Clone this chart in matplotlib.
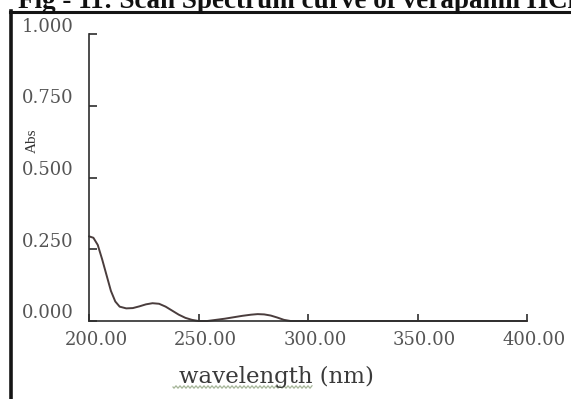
import numpy as np
import matplotlib
matplotlib.use("Agg")
import matplotlib.pyplot as plt
from matplotlib.lines import Line2D
from matplotlib.transforms import ScaledTranslation

# Scan spectrum of verapamil HCl (absorbance vs wavelength)
wavelength = [200, 202, 204, 206, 208, 210, 212, 214, 217, 220, 223, 226, 229,
              232, 235, 238, 241, 244, 247, 250, 254, 258, 262, 266, 270, 274,
              277, 280, 283, 286, 289, 292, 300, 350, 400]
absorbance = [0.295, 0.290, 0.265, 0.215, 0.160, 0.105, 0.068, 0.050, 0.044,
              0.045, 0.051, 0.058, 0.062, 0.060, 0.050, 0.036, 0.022, 0.011,
              0.004, 0.000, 0.000, 0.004, 0.008, 0.013, 0.018, 0.022, 0.024,
              0.023, 0.019, 0.012, 0.004, 0.000, 0.000, 0.000, 0.000]

x_ticks = [200, 250, 300, 350, 400]
x_tick_labels = ["200.00", "250.00", "300.00", "350.00", "400.00"]
y_ticks = [0.0, 0.25, 0.5, 0.75, 1.0]
y_tick_labels = ["0.000", "0.250", "0.500", "0.750", "1.000"]

W, H = 571, 399
TICK_FONT = ["DejaVu Serif"]
SERIF = ["Liberation Serif", "DejaVu Serif"]
TEXT_GREY = "#555555"
AXIS_COLOR = "#2e2e2e"


def fx(px):
    return px / W


def fy(py):
    return 1 - py / H


fig = plt.figure(figsize=(W / 100, H / 100), dpi=100)
fig.patch.set_facecolor("white")

ax = fig.add_axes([fx(89), fy(321), (527 - 89) / W, (321 - 34) / H])
ax.plot(wavelength, absorbance, color="#4a3d3d", lw=1.4, solid_capstyle="round",
        clip_on=False)
ax.set_xlim(200, 400)
ax.set_ylim(0, 1)

for side in ("top", "right"):
    ax.spines[side].set_visible(False)
for side in ("left", "bottom"):
    ax.spines[side].set_color(AXIS_COLOR)
    ax.spines[side].set_linewidth(1.2)

ax.set_xticks(x_ticks)
ax.set_xticklabels(x_tick_labels, family=TICK_FONT, fontsize=13, color=TEXT_GREY)
ax.set_yticks(y_ticks)
ax.set_yticklabels(y_tick_labels, family=TICK_FONT, fontsize=13, color=TEXT_GREY,
                   va="center")
ax.tick_params(axis="x", direction="in", length=5, width=1.2, color=AXIS_COLOR,
               pad=7)
ax.tick_params(axis="y", direction="in", length=6, width=1.2, color=AXIS_COLOR,
               pad=11)

# nudge x tick labels right and y tick labels up
x_shift = ScaledTranslation(5 / 72, 0, fig.dpi_scale_trans)
for lab in ax.get_xticklabels():
    lab.set_transform(lab.get_transform() + x_shift)
y_shift = ScaledTranslation(0, 7.5 / 100, fig.dpi_scale_trans)
for lab in ax.get_yticklabels():
    lab.set_transform(lab.get_transform() + y_shift)

# axis titles
fig.text(fx(32), fy(141), "Abs", rotation=90, ha="center", va="center",
         family=SERIF, fontsize=11, color="#333333")
fig.text(fx(276), fy(383), "wavelength (nm)", ha="center", va="baseline",
         family=TICK_FONT, fontsize=16.5, color="#3a3a3a")

# spell-check squiggle under "wavelength"
sx = np.linspace(173, 312, 140)
sy = 387 + 1.2 * np.sin((sx - 173) / 2.0 * np.pi)
fig.add_artist(Line2D(fx(sx), fy(sy), color="#8fa37f", lw=0.9, alpha=0.8))

# page frame and caption
fig.add_artist(Line2D([fx(10), fx(W)], [fy(12), fy(12)], color="#151515", lw=2.2))
fig.add_artist(Line2D([fx(11), fx(11)], [fy(11), fy(H)], color="#151515", lw=2.6))
fig.text(fx(18), fy(8), "Fig - 11: Scan Spectrum curve of verapamil HCl",
         ha="left", va="baseline", family=SERIF, fontsize=19.5, fontweight="bold",
         color="#111111")

fig.savefig("out.png", dpi=100)
